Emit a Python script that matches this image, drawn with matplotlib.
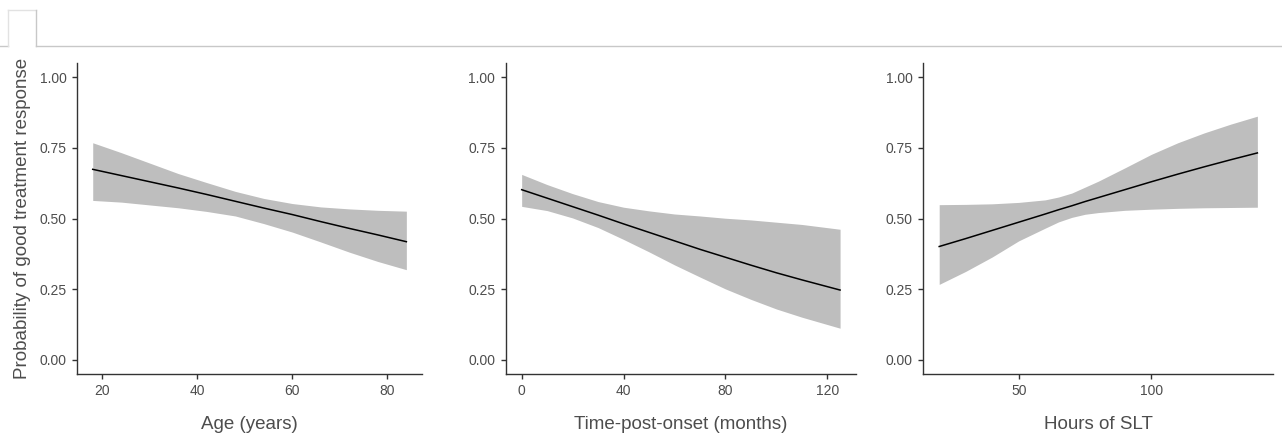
import numpy as np
import matplotlib.pyplot as plt
from matplotlib.lines import Line2D

plt.rcParams['font.family'] = ['Liberation Sans', 'DejaVu Sans']

# ---- data ----
# Age (years)
age_x = [18, 24, 30, 36, 42, 48, 54, 60, 66, 72, 78, 84]
age_fit = [0.674, 0.652, 0.630, 0.608, 0.585, 0.561, 0.537, 0.514, 0.489, 0.465, 0.442, 0.418]
age_lo = [0.564, 0.558, 0.548, 0.538, 0.525, 0.509, 0.482, 0.452, 0.417, 0.381, 0.348, 0.319]
age_hi = [0.768, 0.733, 0.696, 0.659, 0.627, 0.596, 0.571, 0.553, 0.541, 0.534, 0.529, 0.526]

# Time-post-onset (months)
tpo_x = [0, 10, 20, 30, 40, 50, 60, 70, 80, 90, 100, 110, 125]
tpo_fit = [0.602, 0.572, 0.542, 0.512, 0.481, 0.451, 0.421, 0.391, 0.363, 0.335, 0.308, 0.283, 0.247]
tpo_lo = [0.543, 0.528, 0.502, 0.468, 0.426, 0.382, 0.336, 0.293, 0.251, 0.214, 0.180, 0.151, 0.112]
tpo_hi = [0.656, 0.620, 0.588, 0.560, 0.540, 0.527, 0.516, 0.509, 0.501, 0.495, 0.487, 0.479, 0.462]

# Hours of SLT
slt_x = [20, 30, 40, 50, 60, 65, 70, 75, 80, 90, 100, 110, 120, 130, 140]
slt_fit = [0.401, 0.429, 0.458, 0.487, 0.516, 0.531, 0.545, 0.560, 0.574, 0.602, 0.630, 0.657, 0.683, 0.708, 0.732]
slt_lo = [0.267, 0.313, 0.364, 0.421, 0.466, 0.488, 0.504, 0.515, 0.521, 0.529, 0.533, 0.536, 0.538, 0.539, 0.540]
slt_hi = [0.549, 0.550, 0.552, 0.557, 0.566, 0.576, 0.590, 0.611, 0.632, 0.679, 0.727, 0.768, 0.803, 0.834, 0.862]

panels = [
    (age_x, age_fit, age_lo, age_hi, 'Age (years)', [20, 40, 60, 80]),
    (tpo_x, tpo_fit, tpo_lo, tpo_hi, 'Time-post-onset (months)', [0, 40, 80, 120]),
    (slt_x, slt_fit, slt_lo, slt_hi, 'Hours of SLT', [50, 100]),
]
y_ticks = [0.0, 0.25, 0.5, 0.75, 1.0]

fig = plt.figure(figsize=(12.82, 4.38), dpi=100)
lefts = [0.0601, 0.3945, 0.7202]
widths = [0.2691, 0.2732, 0.2730]

axis_col = '#333333'
text_col = '#4d4d4d'

for i, (x, fit, lo, hi, xlabel, xt) in enumerate(panels):
    ax = fig.add_axes([lefts[i], 0.1461, widths[i], 0.7100])
    ax.fill_between(x, lo, hi, color='#bebebe', linewidth=0)
    ax.plot(x, fit, color='black', lw=1.1)
    span = x[-1] - x[0]
    ax.set_xlim(x[0] - 0.05 * span, x[-1] + 0.05 * span)
    ax.set_ylim(-0.05, 1.05)
    ax.set_xticks(xt)
    ax.set_xticklabels([str(v) for v in xt])
    ax.set_yticks(y_ticks)
    ax.set_yticklabels(['%.2f' % v for v in y_ticks])
    for s in ['top', 'right']:
        ax.spines[s].set_visible(False)
    for s in ['left', 'bottom']:
        ax.spines[s].set_color(axis_col)
        ax.spines[s].set_linewidth(1.0)
    ax.tick_params(colors=axis_col, labelcolor=text_col, labelsize=10,
                   length=3.5, width=1.0, pad=4)
    ax.set_xlabel(xlabel, fontsize=13.5, color=text_col, labelpad=13)
    if i == 0:
        ax.set_ylabel('Probability of good treatment response', fontsize=13.5,
                      color=text_col, labelpad=6)

# page tab and divider line at the top
H = 438.0
W = 1282.0
ly = 1 - 46 / H
fig.add_artist(Line2D([0, 8 / W], [ly, ly], color='#c8c8c8', lw=1.0))
fig.add_artist(Line2D([36 / W, 1], [ly, ly], color='#c8c8c8', lw=1.0))
fig.add_artist(Line2D([8 / W, 8 / W], [ly, 1 - 10 / H], color='#e2e2e2', lw=1.0))
fig.add_artist(Line2D([8 / W, 36 / W], [1 - 10 / H, 1 - 10 / H], color='#e2e2e2', lw=1.0))
fig.add_artist(Line2D([36 / W, 36 / W], [ly, 1 - 10 / H], color='#c8c8c8', lw=1.0))

fig.savefig('out.png', dpi=100)
